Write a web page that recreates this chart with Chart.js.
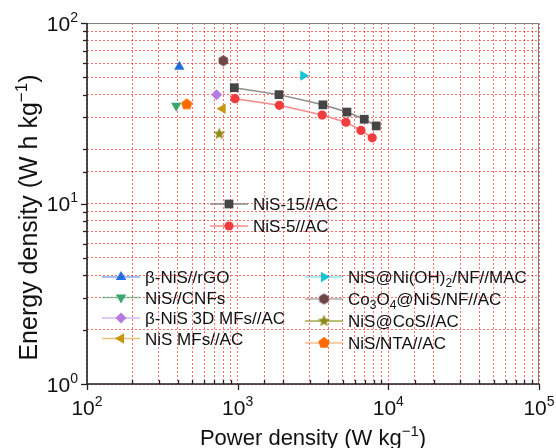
<!DOCTYPE html>
<html>
<head>
<meta charset="utf-8">
<script src="https://cdn.jsdelivr.net/npm/chart.js@4/dist/chart.umd.min.js"></script>
<style>
html, body { margin: 0; padding: 0; background: #fff; }
#wrap { width: 556px; height: 448px; }
</style>
</head>
<body>
<div id="wrap"><canvas id="graphique" width="556" height="448"></canvas></div>
<script>
// valeurs (W/kg, Wh/kg)
const puissance15 = [950, 1880, 3680, 5310, 6920, 8310];
const energie15 = [43.8, 40.1, 35.2, 32.1, 29.3, 26.9];
const puissance5 = [960, 1890, 3640, 5230, 6580, 7820];
const energie5 = [38.1, 35.0, 30.9, 28.2, 25.4, 23.1];

const nomsRef = ['β-NiS//rGO', 'NiS//CNFs', 'β-NiS 3D MFs//AC', 'NiS MFs//AC',
    'NiS@Ni(OH)_2/NF//MAC', 'Co_3O_4@NiS/NF//AC', 'NiS@CoS//AC', 'NiS/NTA//AC'];
const puissanceRef = [410, 391, 725, 795, 2725, 803, 755, 459];
const energieRef = [57.3, 34.8, 40.1, 33.5, 51.1, 61.8, 24.3, 35.4];

const ticksX = [100, 1000, 10000, 100000];
const ticksY = [1, 10, 100];

const POLICE = '"Liberation Sans", Arial, sans-serif';

// petites images pour les formes absentes de Chart.js
function forme(cotes, r, couleur, etoile) {
    const c = document.createElement('canvas');
    c.width = c.height = Math.ceil(r * 2 + 2);
    const g = c.getContext('2d');
    const m = c.width / 2;
    const n = etoile ? cotes * 2 : cotes;
    g.beginPath();
    for (let i = 0; i < n; i++) {
        const rr = etoile && i % 2 ? r * 0.42 : r;
        const a = -Math.PI / 2 + i * 2 * Math.PI / n;
        const px = m + rr * Math.cos(a), py = m + rr * Math.sin(a);
        i ? g.lineTo(px, py) : g.moveTo(px, py);
    }
    g.closePath();
    g.fillStyle = couleur;
    g.fill();
    return c;
}

const stylesRef = [
    { point: '#1f6fe0', ligne: 'rgba(31,111,224,0.55)', style: 'triangle', rot: 0, r: 6 },
    { point: '#3aa86a', ligne: 'rgba(58,168,106,0.55)', style: 'triangle', rot: 180, r: 6 },
    { point: '#b57be0', ligne: 'rgba(181,123,224,0.55)', style: 'rectRot', rot: 0, r: 5.5 },
    { point: '#c8960a', ligne: 'rgba(200,150,10,0.55)', style: 'triangle', rot: -90, r: 6 },
    { point: '#14c4d0', ligne: 'rgba(20,196,208,0.45)', style: 'triangle', rot: 90, r: 6 },
    { point: '#6e4646', ligne: 'rgba(110,90,90,0.5)', style: forme(6, 5.5, '#6e4646'), rot: 0, r: 5.5 },
    { point: '#8c8a12', ligne: 'rgba(140,138,18,0.75)', style: forme(5, 6.5, '#8c8a12', true), rot: 0, r: 6 },
    { point: '#ff6a00', ligne: 'rgba(255,106,0,0.45)', style: forme(5, 6, '#ff6a00'), rot: 0, r: 6 }
];

const datasets = [
    {
        label: 'NiS-15//AC',
        data: puissance15.map((p, i) => ({ x: p, y: energie15[i] })),
        showLine: true, borderColor: '#8a8a8a', borderWidth: 1.5,
        pointStyle: 'rect', pointRadius: 6.2, pointBackgroundColor: '#454545', pointBorderWidth: 0
    },
    {
        label: 'NiS-5//AC',
        data: puissance5.map((p, i) => ({ x: p, y: energie5[i] })),
        showLine: true, borderColor: '#f78a8a', borderWidth: 1.5,
        pointStyle: 'circle', pointRadius: 4.6, pointBackgroundColor: '#f03c3c', pointBorderWidth: 0
    }
];
nomsRef.forEach((nom, i) => {
    const s = stylesRef[i];
    datasets.push({
        label: nom,
        data: [{ x: puissanceRef[i], y: energieRef[i] }],
        showLine: false, borderColor: s.ligne,
        pointStyle: s.style, pointRotation: s.rot, pointRadius: s.r,
        pointBackgroundColor: s.point, pointBorderWidth: 0
    });
});

// texte avec indices (_2) et exposants
function ecrire(ctx, morceaux, x, y, taille, align) {
    const petite = Math.round(taille * 0.68);
    let largeur = 0;
    morceaux.forEach(m => {
        ctx.font = `${m.mode ? petite : taille}px ${POLICE}`;
        largeur += ctx.measureText(m.t).width;
    });
    let cx = align === 'center' ? x - largeur / 2 : align === 'right' ? x - largeur : x;
    ctx.textAlign = 'left';
    ctx.textBaseline = 'alphabetic';
    morceaux.forEach(m => {
        ctx.font = `${m.mode ? petite : taille}px ${POLICE}`;
        const dy = m.mode === 'sup' ? -taille * 0.42 : m.mode === 'sub' ? taille * 0.24 : 0;
        ctx.fillText(m.t, cx, y + dy);
        cx += ctx.measureText(m.t).width;
    });
}

function decouper(texte) {
    return texte.split(/(_\d+)/).filter(s => s).map(s =>
        s[0] === '_' ? { t: s.slice(1), mode: 'sub' } : { t: s, mode: '' });
}

function puissanceDix(v) {
    return { base: '10', exp: String(Math.round(Math.log10(v))) };
}

function estMajeur(v) {
    const l = Math.log10(v);
    return Math.abs(l - Math.round(l)) < 1e-9;
}

const axesPlugin = {
    id: 'axes',
    afterDatasetsDraw(chart) {
        const { ctx, chartArea: a, scales: { x, y } } = chart;
        ctx.save();
        // cadre haut / droite
        ctx.strokeStyle = '#808080';
        ctx.lineWidth = 1;
        ctx.beginPath();
        ctx.moveTo(a.left, a.top + 0.5);
        ctx.lineTo(a.right - 0.5, a.top + 0.5);
        ctx.lineTo(a.right - 0.5, a.bottom);
        ctx.stroke();
        // axes
        ctx.strokeStyle = '#222';
        ctx.lineWidth = 1.6;
        ctx.beginPath();
        ctx.moveTo(a.left, a.top);
        ctx.lineTo(a.left, a.bottom);
        ctx.lineTo(a.right, a.bottom);
        ctx.stroke();

        ctx.lineWidth = 1.3;
        ctx.fillStyle = '#111';
        x.ticks.forEach(t => {
            const px = Math.round(x.getPixelForValue(t.value)) + 0.5;
            ctx.beginPath();
            if (estMajeur(t.value)) {
                ctx.moveTo(px, a.bottom);
                ctx.lineTo(px, a.bottom + 6);
            } else {
                ctx.moveTo(px, a.bottom);
                ctx.lineTo(px, a.bottom - 4);
            }
            ctx.stroke();
        });
        y.ticks.forEach(t => {
            const py = Math.round(y.getPixelForValue(t.value)) + 0.5;
            ctx.beginPath();
            ctx.moveTo(a.left, py);
            ctx.lineTo(a.left - (estMajeur(t.value) ? 6 : 4), py);
            ctx.stroke();
        });

        // étiquettes
        ctx.fillStyle = '#111';
        ticksX.forEach(v => {
            const p = puissanceDix(v);
            ecrire(ctx, [{ t: p.base, mode: '' }, { t: p.exp, mode: 'sup' }],
                x.getPixelForValue(v), a.bottom + 31, 21, 'center');
        });
        ticksY.forEach(v => {
            const p = puissanceDix(v);
            ecrire(ctx, [{ t: p.base, mode: '' }, { t: p.exp, mode: 'sup' }],
                a.left - 9, y.getPixelForValue(v) + 7.5, 21, 'right');
        });

        // titres
        ecrire(ctx, [{ t: 'Power density (W kg', mode: '' }, { t: '\u22121', mode: 'sup' }, { t: ')', mode: '' }],
            (a.left + a.right) / 2, a.bottom + 61, 22, 'center');
        ctx.translate(28, (a.top + a.bottom) / 2 + 14);
        ctx.rotate(-Math.PI / 2);
        ecrire(ctx, [{ t: 'Energy density (W h kg', mode: '' }, { t: '\u22121', mode: 'sup' }, { t: ')', mode: '' }],
            0, 9, 25, 'center');
        ctx.restore();
    }
};

const legendePlugin = {
    id: 'legende',
    afterDraw(chart) {
        const { ctx, chartArea: a } = chart;
        const ds = chart.data.datasets;
        const blocs = [
            { indices: [0, 1], x: a.left + 123, y: a.top + 181, pas: 22 },
            { indices: [2, 3, 4, 5], x: a.left + 15, y: a.top + 254, pas: 20.5 },
            { indices: [6, 7, 8, 9], x: a.left + 218, y: a.top + 254, pas: 22 }
        ];
        ctx.save();
        blocs.forEach(b => {
            b.indices.forEach((idx, k) => {
                const d = ds[idx];
                const yy = b.y + k * b.pas;
                ctx.strokeStyle = d.borderColor;
                ctx.lineWidth = 1.5;
                ctx.beginPath();
                ctx.moveTo(b.x, yy);
                ctx.lineTo(b.x + 38, yy);
                ctx.stroke();
                ctx.fillStyle = d.pointBackgroundColor;
                const opts = { pointStyle: d.pointStyle, rotation: d.pointRotation || 0, radius: d.pointRadius, borderWidth: 0 };
                if (Chart.helpers && Chart.helpers.drawPoint) {
                    Chart.helpers.drawPoint(ctx, opts, b.x + 19, yy);
                }
                ctx.fillStyle = '#111';
                ecrire(ctx, decouper(d.label), b.x + 43, yy + 6, 17, 'left');
            });
        });
        ctx.restore();
    }
};

const grille = {
    color: 'rgba(255,45,45,0.7)',
    lineWidth: 1,
    drawTicks: false
};

new Chart(document.getElementById('graphique'), {
    type: 'scatter',
    data: { datasets: datasets },
    options: {
        responsive: false,
        animation: false,
        layout: { padding: { left: 87, right: 17, top: 23, bottom: 64 } },
        plugins: { legend: { display: false }, tooltip: { enabled: false } },
        elements: { line: { tension: 0 } },
        scales: {
            x: {
                type: 'logarithmic', min: 100, max: 100000,
                ticks: { display: false },
                grid: grille,
                border: { display: false, dash: [2, 2] },
                afterFit: s => { s.height = 0; }
            },
            y: {
                type: 'logarithmic', min: 1, max: 100,
                ticks: { display: false },
                grid: grille,
                border: { display: false, dash: [2, 2] },
                afterFit: s => { s.width = 0; }
            }
        }
    },
    plugins: [axesPlugin, legendePlugin]
});
</script>
</body>
</html>
